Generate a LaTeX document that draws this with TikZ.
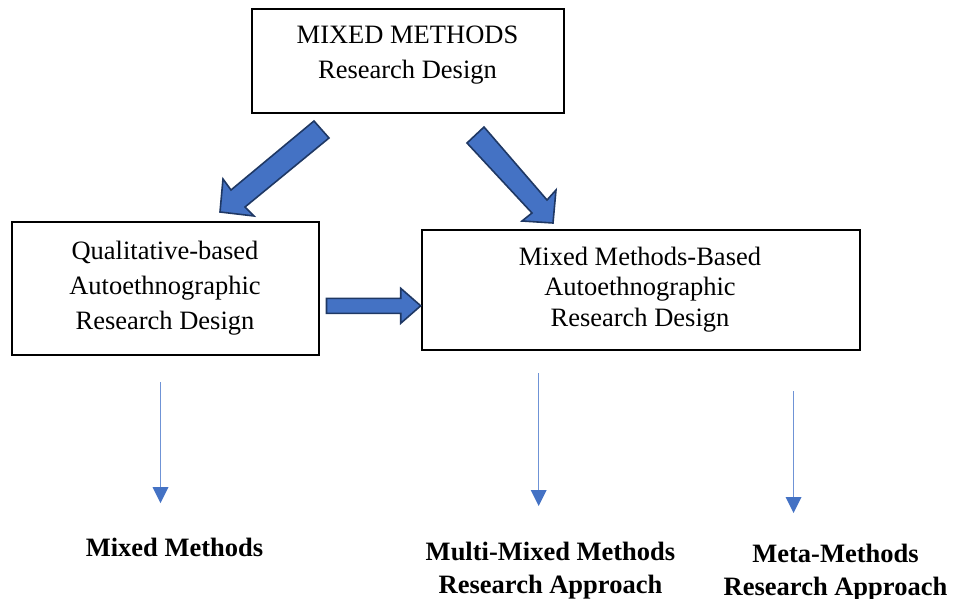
\documentclass[tikz,border=0pt]{standalone}
\usepackage{fontspec}
\setmainfont{Liberation Serif}
\usetikzlibrary{arrows.meta}
\definecolor{blockfill}{HTML}{4472C4}
\definecolor{blockedge}{HTML}{1F3864}
\definecolor{thinline}{HTML}{6F93D6}
\begin{document}
\begin{tikzpicture}[x=1pt,y=-1pt,
  box/.style={draw=black, line width=1.1pt, inner sep=0pt},
  boxtext/.style={align=center, inner sep=0pt, anchor=base, font=\fontsize{26.5}{35}\selectfont},
  result/.style={align=center, inner sep=0pt, anchor=base, font=\fontsize{26.5}{33}\selectfont\bfseries},
  blockarrow/.style={fill=blockfill, draw=blockedge, line width=1.6pt, line join=miter},
  thinarrow/.style={draw=thinline, line width=1.3pt, -{Triangle[width=16pt,length=16pt,color=blockfill,fill=blockfill,line width=0pt]}}]
  \useasboundingbox (0,0) rectangle (953,599);

  % boxes
  \node[box, minimum width=312pt, minimum height=104pt] (top) at (408,61) {};
  \node[box, minimum width=307pt, minimum height=133pt] (qual) at (165.5,288.5) {};
  \node[box, minimum width=438pt, minimum height=120pt] (mixed) at (641,290) {};

  % box texts (anchored at the baseline of the last line)
  \node[boxtext] (toptext) at (407.5,79) {MIXED METHODS\\Research Design};
  \node[boxtext] (qualtext) at (165,329) {Qualitative-based\\Autoethnographic\\Research Design};
  \node[boxtext, font=\fontsize{26.5}{30.5}\selectfont] (mixedtext) at (640,326) {Mixed Methods-Based\\Autoethnographic\\Research Design};

  % block arrows
  \filldraw[blockarrow] (314,121) -- (231,190) -- (223,179) -- (220,212) -- (254,216) -- (245,207) -- (329,138) -- cycle;
  \filldraw[blockarrow] (484,127) -- (547,200) -- (556,190) -- (553,223) -- (522,221) -- (532,213) -- (467,143) -- cycle;
  \filldraw[blockarrow] (326.5,298.3) -- (400.7,298.3) -- (400.7,288.3) -- (420.7,305.8) -- (400.7,323.3) -- (400.7,313.3) -- (326.5,313.3) -- cycle;

  % thin arrows
  \coordinate (a1) at (160.5,382);
  \coordinate (b1) at (160.5,503);
  \coordinate (a2) at (538.7,373);
  \coordinate (b2) at (538.7,506);
  \coordinate (a3) at (793.5,391);
  \coordinate (b3) at (793.5,513);
  \draw[thinarrow] (a1) -- (b1);
  \draw[thinarrow] (a2) -- (b2);
  \draw[thinarrow] (a3) -- (b3);

  % results
  \node[result] (r1) at (174.5,556) {Mixed Methods};
  \node[result] (r2) at (550.5,593) {Multi-Mixed Methods\\Research Approach};
  \node[result] (r3) at (835.5,595) {Meta-Methods\\Research Approach};
\end{tikzpicture}
\end{document}
